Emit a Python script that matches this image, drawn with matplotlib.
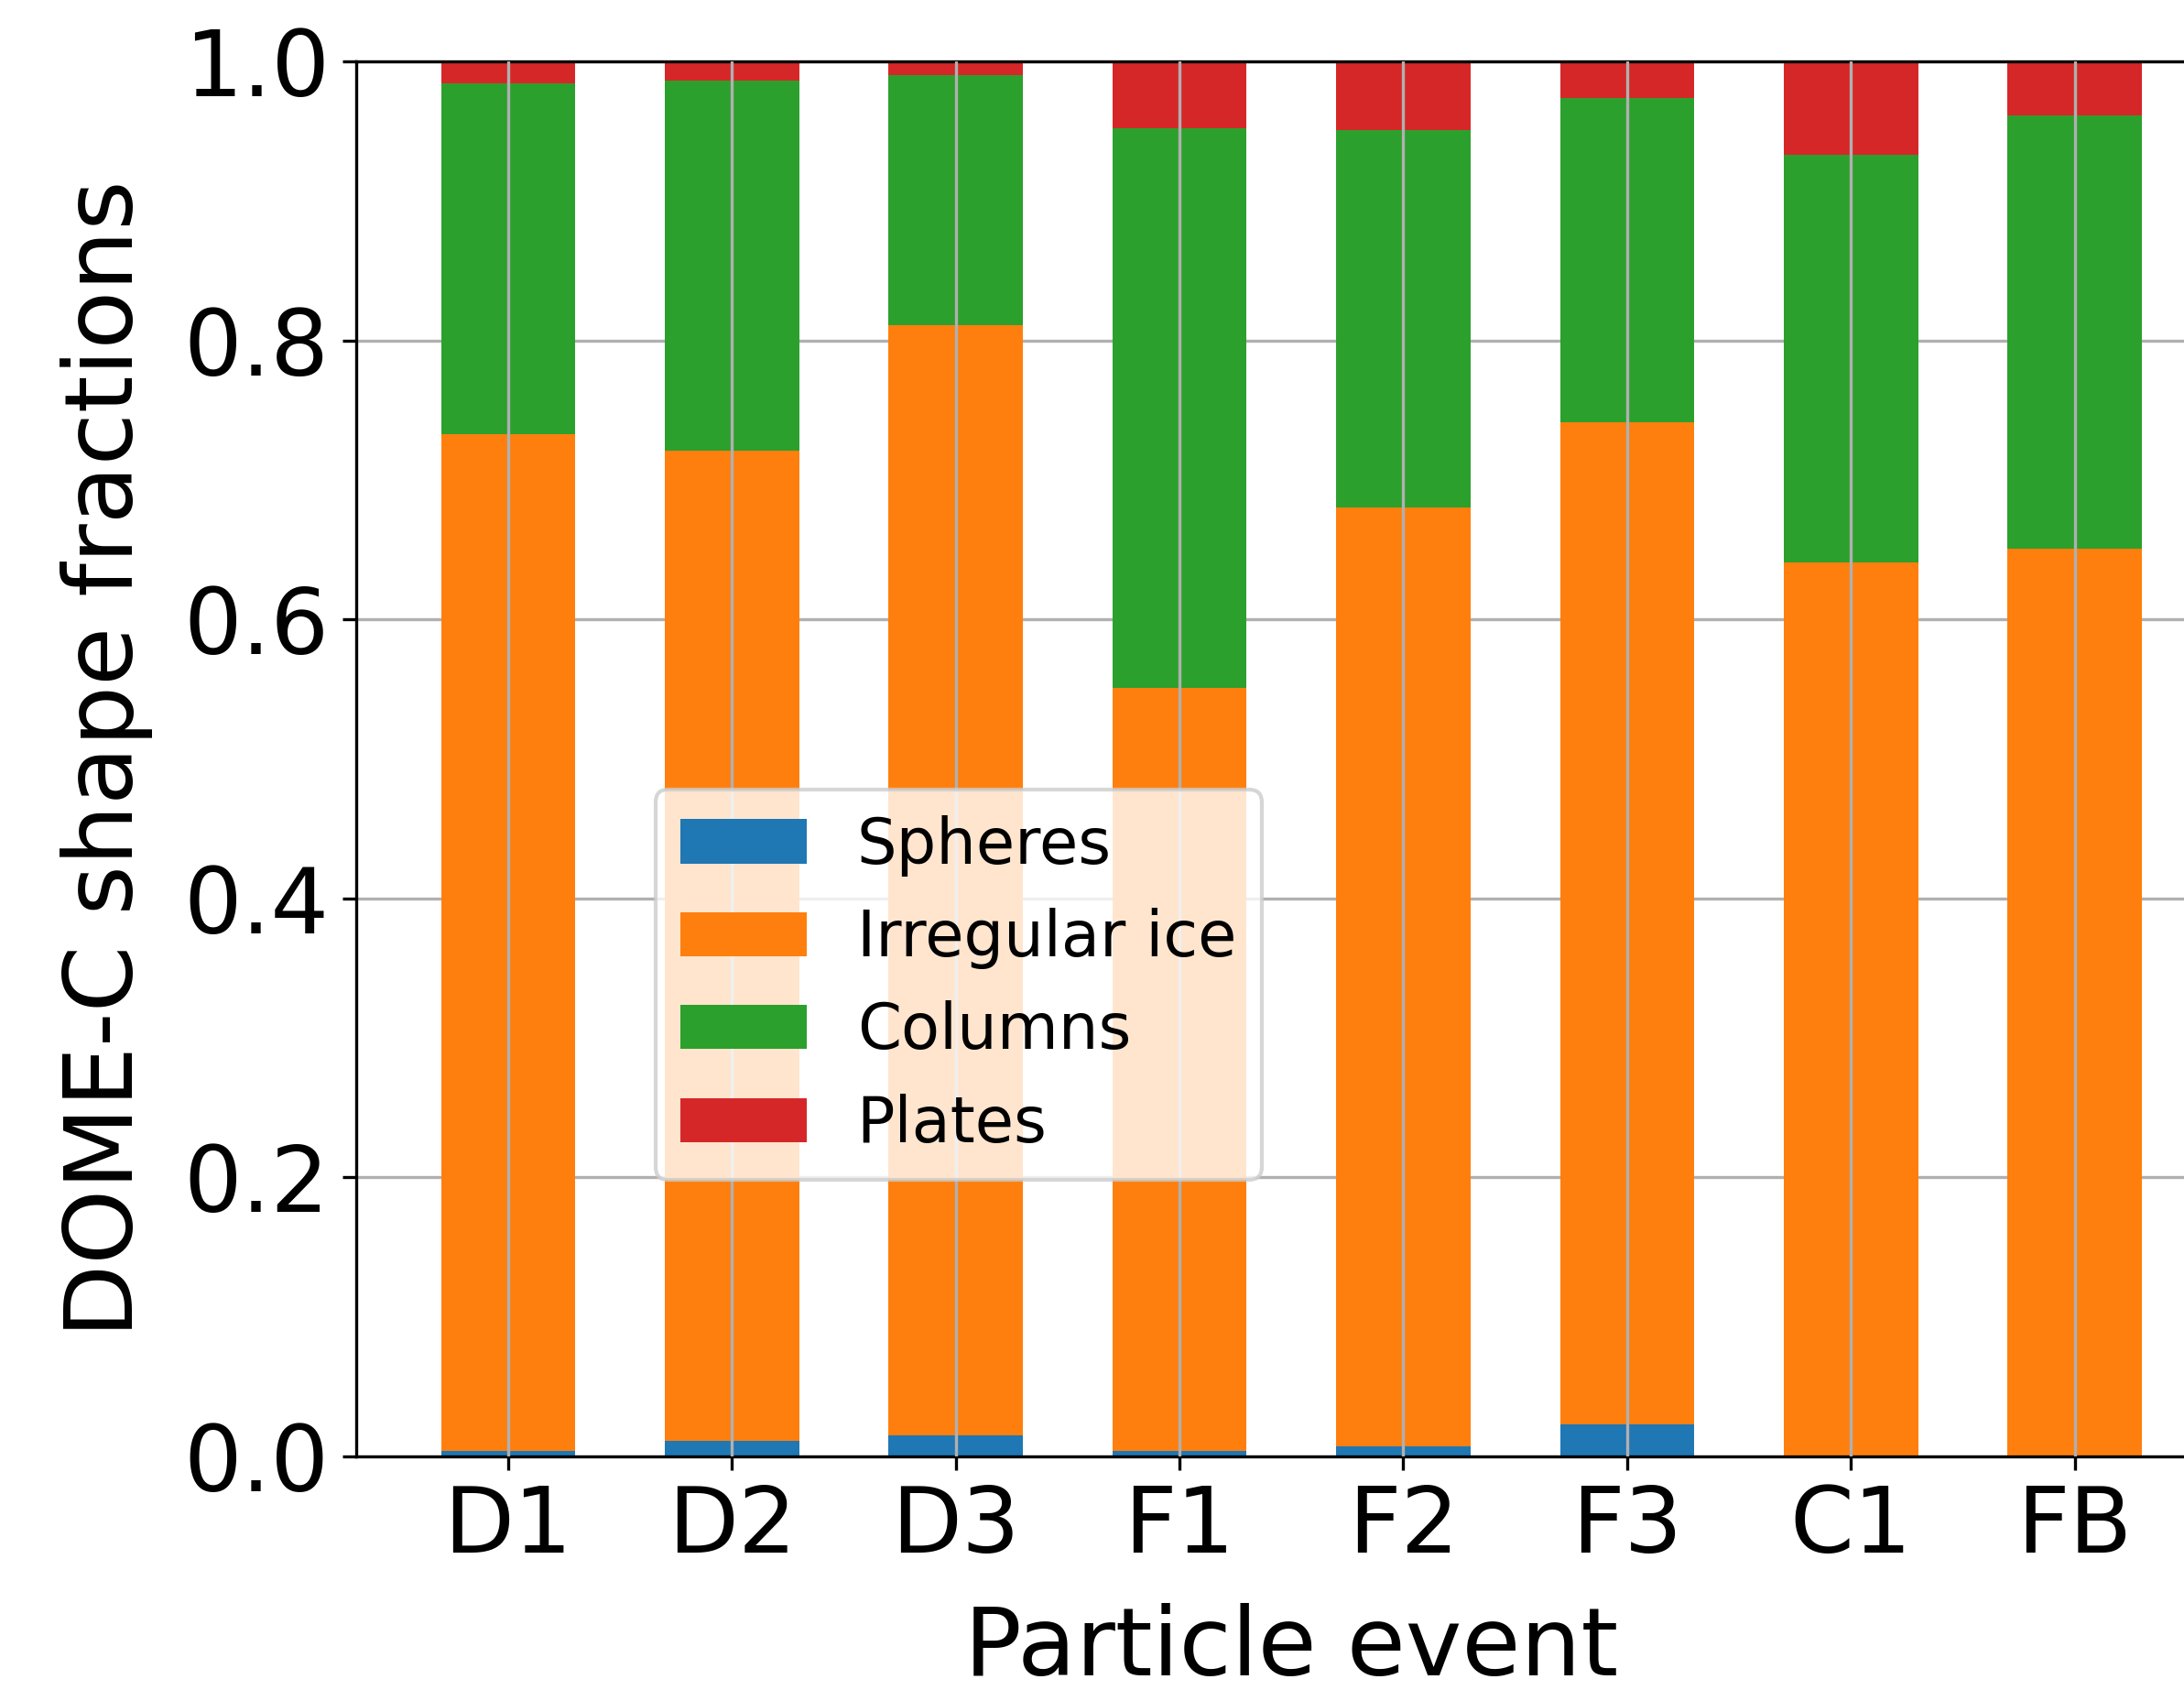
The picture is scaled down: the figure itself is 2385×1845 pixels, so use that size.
import numpy as np
import matplotlib
matplotlib.use("Agg")
import matplotlib.pyplot as plt

# %% Shape fractions per particle event
events = ["D1", "D2", "D3", "F1", "F2", "F3", "C1", "FB"]
spheres = [0.004, 0.011, 0.015, 0.004, 0.007, 0.023, 0.0, 0.0]
irregular = [0.729, 0.710, 0.796, 0.547, 0.673, 0.718, 0.641, 0.651]
columns = [0.251, 0.265, 0.179, 0.401, 0.271, 0.233, 0.292, 0.310]
plates = [0.016, 0.014, 0.010, 0.048, 0.049, 0.026, 0.067, 0.039]

labels = ["Spheres", "Irregular ice", "Columns", "Plates"]
colors = ["#1f77b4", "#ff7f0e", "#2ca02c", "#d62728"]

# %% Plot
fig = plt.figure(figsize=(7.95, 6.15), dpi=300)
ax = fig.add_axes([0.163, 0.1382, 0.8566, 0.8255])

x = np.arange(len(events))
bottom = np.zeros(len(events))
for vals, lab, col in zip([spheres, irregular, columns, plates], labels, colors):
    ax.bar(x, vals, width=0.6, bottom=bottom, color=col, label=lab)
    bottom += np.array(vals)

ax.set_ylim(0, 1.0)
ax.set_xticks(x)
ax.set_xticklabels(events)
ax.tick_params(axis="both", labelsize=24)
ax.set_xlabel("Particle event", fontsize=25, labelpad=8)
ax.set_ylabel("DOME-C shape fractions", fontsize=25, labelpad=8)

# horizontal grid behind bars, vertical grid on top of them
ax.set_axisbelow(True)
ax.grid(True)
ax.xaxis.set_zorder(2.5)

ax.legend(fontsize=16.5, loc="upper left", bbox_to_anchor=(0.160, 0.478),
          borderaxespad=0)

fig.savefig("out.png", dpi=300)
